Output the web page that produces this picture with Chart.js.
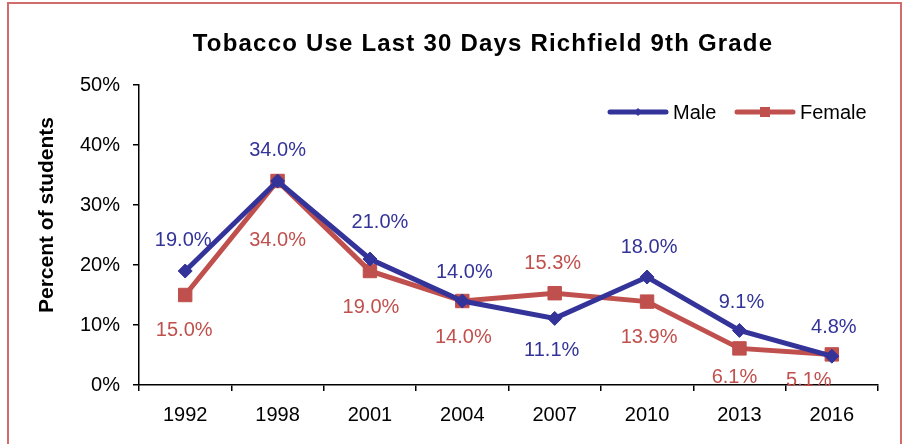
<!DOCTYPE html>
<html>
<head>
<meta charset="utf-8">
<script src="https://cdn.jsdelivr.net/npm/chart.js@4.4.0/dist/chart.umd.min.js"></script>
<style>
  html, body { margin: 0; padding: 0; background: #fff; }
  #wrap { width: 904px; height: 444px; }
</style>
</head>
<body>
<div id="wrap"><canvas id="tobaccoChart" width="904" height="444"></canvas></div>
<script>
const years = ['1992', '1998', '2001', '2004', '2007', '2010', '2013', '2016'];
const maleUse = [19.0, 34.0, 21.0, 14.0, 11.1, 18.0, 9.1, 4.8];
const femaleUse = [15.0, 34.0, 19.0, 14.0, 15.3, 13.9, 6.1, 5.1];
const yTicks = [0, 10, 20, 30, 40, 50];

const BLUE = '#333399';
const RED = '#C0504D';
const FONT = "'Liberation Sans', Arial, sans-serif";

// where each value label sits relative to its point
const labelShift = {
    male: {
        dx: [-2, 0, 10, 2, -3, 2, 2, 2],
        dy: [-31, -31, -37, -29, 32, -30, -28, -29]
    },
    female: {
        dx: [-1, 0, 1, 1, -2, 2, -5, -23],
        dy: [35, 59, 36, 36, -30, 36, 29, 26]
    }
};

const valueLabels = {
    id: 'valueLabels',
    afterDatasetsDraw(chart) {
        const ctx = chart.ctx;
        ctx.save();
        ctx.font = '20px ' + FONT;
        ctx.textAlign = 'center';
        ctx.textBaseline = 'middle';
        chart.data.datasets.forEach((ds, i) => {
            const shift = labelShift[ds.key];
            chart.getDatasetMeta(i).data.forEach((pt, j) => {
                ctx.fillStyle = ds.borderColor;
                ctx.fillText(ds.data[j].toFixed(1) + '%', pt.x + shift.dx[j], pt.y + shift.dy[j]);
            });
        });
        ctx.restore();
    }
};

// frame, titles and the in-plot legend
const decorations = {
    id: 'decorations',
    afterDraw(chart) {
        const ctx = chart.ctx;
        ctx.save();
        ctx.strokeStyle = '#D26B6B';
        ctx.lineWidth = 2;
        ctx.strokeRect(8, 3, 893, 460);

        ctx.fillStyle = '#000';
        ctx.font = 'bold 24px ' + FONT;
        ctx.letterSpacing = '1.2px';
        ctx.textAlign = 'center';
        ctx.textBaseline = 'middle';
        ctx.fillText('Tobacco Use Last 30 Days Richfield 9th Grade', 483, 44);
        ctx.letterSpacing = '0px';

        // y axis title, sits a little above the plot's middle
        ctx.save();
        ctx.translate(47, 215);
        ctx.rotate(-Math.PI / 2);
        ctx.font = 'bold 21px ' + FONT;
        ctx.fillText('Percent of students', 0, 0);
        ctx.restore();

        const items = [
            { text: 'Male', color: BLUE, x: 610, shape: 'diamond' },
            { text: 'Female', color: RED, x: 737, shape: 'square' }
        ];
        items.forEach(it => {
            const y = 112;
            ctx.strokeStyle = it.color;
            ctx.fillStyle = it.color;
            ctx.lineWidth = 5;
            ctx.lineCap = 'round';
            ctx.beginPath();
            ctx.moveTo(it.x, y);
            ctx.lineTo(it.x + 56, y);
            ctx.stroke();
            const cx = it.x + 28;
            ctx.beginPath();
            if (it.shape === 'diamond') {
                ctx.moveTo(cx - 4, y);
                ctx.lineTo(cx, y - 4);
                ctx.lineTo(cx + 4, y);
                ctx.lineTo(cx, y + 4);
                ctx.closePath();
            } else {
                ctx.rect(cx - 5, y - 5, 10, 10);
            }
            ctx.fill();
            ctx.fillStyle = '#000';
            ctx.font = '20px ' + FONT;
            ctx.textAlign = 'left';
            ctx.fillText(it.text, it.x + 63, y + 1);
        });
        ctx.restore();
    }
};

new Chart(document.getElementById('tobaccoChart'), {
    type: 'line',
    data: {
        labels: years,
        datasets: [
            {
                key: 'male',
                label: 'Male',
                data: maleUse,
                borderColor: BLUE,
                backgroundColor: BLUE,
                borderWidth: 5,
                pointStyle: 'rectRot',
                pointRadius: 7,
                pointBorderWidth: 1,
                tension: 0
            },
            {
                key: 'female',
                label: 'Female',
                data: femaleUse,
                borderColor: RED,
                backgroundColor: RED,
                borderWidth: 5,
                pointStyle: 'rect',
                pointRadius: 9.5,
                pointBorderWidth: 1,
                tension: 0
            }
        ]
    },
    options: {
        responsive: false,
        animation: false,
        layout: { padding: { left: 20, right: 26, top: 85, bottom: 0 } },
        plugins: {
            legend: { display: false },
            tooltip: { enabled: false }
        },
        scales: {
            x: {
                offset: true,
                grid: {
                    offset: true,
                    drawOnChartArea: false,
                    drawTicks: true,
                    tickLength: 6,
                    color: '#000',
                    lineWidth: 1.5
                },
                border: { display: true, color: '#000', width: 1.5 },
                ticks: {
                    color: '#000',
                    padding: 12,
                    font: { family: FONT, size: 20 }
                },
                afterFit(scale) { scale.height = 59; }
            },
            y: {
                min: 0,
                max: 50,
                afterBuildTicks(scale) {
                    scale.ticks = yTicks.map(v => ({ value: v }));
                },
                grid: {
                    drawOnChartArea: false,
                    drawTicks: true,
                    tickLength: 6,
                    color: '#000',
                    lineWidth: 1.5
                },
                border: { display: true, color: '#000', width: 1.5 },
                ticks: {
                    color: '#000',
                    padding: 13,
                    font: { family: FONT, size: 20 },
                    callback: v => v + '%'
                },
                afterFit(scale) { scale.width = 119; }
            }
        }
    },
    plugins: [valueLabels, decorations]
});
</script>
</body>
</html>
